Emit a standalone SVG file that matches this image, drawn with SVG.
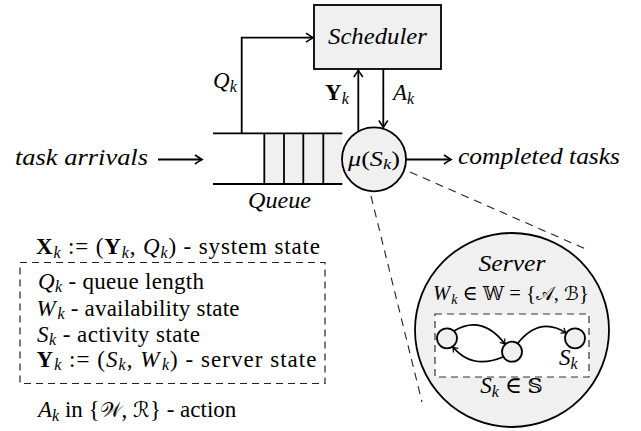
<svg xmlns="http://www.w3.org/2000/svg" width="641" height="431" viewBox="0 0 641 431">
<style>
.t{font-family:"Liberation Serif","DejaVu Serif",serif;font-size:23px;fill:#000}
.mi{font-style:italic}
.bf{font-weight:bold}
.sb{font-size:16px;font-style:italic}
.ln{fill:none;stroke:#000;stroke-width:1.8}
.gr{fill:#f0f0f0;stroke:#000;stroke-width:1.8}
.dash{fill:none;stroke:#222;stroke-width:1.1;stroke-dasharray:8 6}
.sym{font-family:"DejaVu Serif","DejaVu Sans",serif;font-style:normal;font-size:21px}
</style>
<defs>
<marker id="arr" viewBox="-10 -6 12 12" markerWidth="12" markerHeight="12" refX="0" refY="0" orient="auto" markerUnits="userSpaceOnUse">
<path d="M-7,-4.5 Q-2,-1 0,0 Q-2,1 -7,4.5" fill="none" stroke="#000" stroke-width="1.6"/>
</marker>
<marker id="sarr" viewBox="-8 -5 10 10" markerWidth="9" markerHeight="9" refX="0" refY="0" orient="auto" markerUnits="userSpaceOnUse">
<path d="M-5,-3.5 Q-1.5,-0.8 0,0 Q-1.5,0.8 -5,3.5" fill="none" stroke="#000" stroke-width="1.4"/>
</marker>
</defs>

<g id="connectors">
<line class="ln" x1="158" y1="159.5" x2="202" y2="159.5" marker-end="url(#arr)"/>
<polyline class="ln" points="241.7,133 241.7,37.7 313,37.7" marker-end="url(#arr)"/>
<line class="ln" x1="358.3" y1="131" x2="358.3" y2="70" marker-end="url(#arr)"/>
<line class="ln" x1="383.3" y1="69" x2="383.3" y2="127.5" marker-end="url(#arr)"/>
<line class="ln" x1="406" y1="159.5" x2="451" y2="159.5" marker-end="url(#arr)"/>
<line class="dash" x1="410" y1="172" x2="588" y2="250"/>
<line class="dash" x1="371" y1="196" x2="422" y2="402"/>
</g>

<g id="task-arrivals">
<text class="t mi" x="15" y="165" textLength="133" lengthAdjust="spacingAndGlyphs">task arrivals</text>
</g>

<g id="scheduler">
<rect class="gr" x="314" y="5" width="127" height="64"/>
<text class="t mi" x="328" y="43.5" textLength="99" lengthAdjust="spacingAndGlyphs">Scheduler</text>
</g>

<g id="queue">
<rect x="264.3" y="133.3" width="78" height="50.7" fill="#f0f0f0"/>
<line class="ln" x1="213" y1="133.3" x2="342.3" y2="133.3"/>
<line class="ln" x1="213" y1="184" x2="342.3" y2="184"/>
<line class="ln" x1="264.3" y1="133.3" x2="264.3" y2="184"/>
<line class="ln" x1="284" y1="133.3" x2="284" y2="184"/>
<line class="ln" x1="303.3" y1="133.3" x2="303.3" y2="184"/>
<line class="ln" x1="323.3" y1="133.3" x2="323.3" y2="184"/>
<text class="t mi" x="248" y="208" textLength="63" lengthAdjust="spacingAndGlyphs">Queue</text>
</g>

<g id="labels">
<text class="t" x="213" y="88"><tspan class="mi">Q</tspan><tspan class="sb" dy="4">k</tspan></text>
<text class="t" x="325" y="100"><tspan class="bf">Y</tspan><tspan class="sb" dy="4">k</tspan></text>
<text class="t" x="393" y="100"><tspan class="mi">A</tspan><tspan class="sb" dy="4">k</tspan></text>
</g>

<g id="server-node">
<circle cx="374" cy="159.3" r="32" fill="#f0f0f0" stroke="#000" stroke-width="1.8"/>
<text class="t" x="374" y="166" text-anchor="middle" textLength="52" lengthAdjust="spacingAndGlyphs" style="font-size:21px"><tspan class="mi">μ</tspan>(<tspan class="mi">S</tspan><tspan class="sb" dy="3" style="font-size:15px">k</tspan><tspan dy="-3">)</tspan></text>
</g>

<g id="completed-tasks">
<text class="t mi" x="458" y="164" textLength="162" lengthAdjust="spacingAndGlyphs">completed tasks</text>
</g>

<g id="server-detail">
<circle cx="512" cy="330" r="97" fill="#f0f0f0" stroke="#000" stroke-width="1.8"/>
<text class="t mi" x="512" y="270.5" text-anchor="middle" textLength="67" lengthAdjust="spacingAndGlyphs">Server</text>
<text class="t" x="511" y="300" text-anchor="middle" style="font-size:20.5px"><tspan class="mi">W</tspan><tspan class="sb" dx="1" dy="4" style="font-size:14px">k</tspan><tspan dy="-4"> ∈ </tspan><tspan class="sym" style="font-size:19px">𝕎</tspan> = {<tspan class="sym" style="font-size:19px">𝒜</tspan>, <tspan class="sym" style="font-size:19px">ℬ</tspan>}</text>
<rect x="435" y="314" width="154" height="63" fill="#fff" stroke="#333" stroke-width="1.2" stroke-dasharray="7 5"/>
<circle cx="447" cy="338.3" r="10" fill="#f0f0f0" stroke="#000" stroke-width="1.8"/>
<circle cx="512" cy="351.7" r="10" fill="#f0f0f0" stroke="#000" stroke-width="1.8"/>
<circle cx="575" cy="338.3" r="10" fill="#f0f0f0" stroke="#000" stroke-width="1.8"/>
<path d="M454,331 Q482,314 505,344" fill="none" stroke="#000" stroke-width="1.8" marker-end="url(#sarr)"/>
<path d="M503,357 Q472,370 453,347" fill="none" stroke="#000" stroke-width="1.8" marker-end="url(#sarr)"/>
<path d="M518,343 Q540,316 566,333" fill="none" stroke="#000" stroke-width="1.8" marker-end="url(#sarr)"/>
<text class="t" x="559" y="365"><tspan class="mi">S</tspan><tspan class="sb" dy="4">k</tspan></text>
<text class="t" x="511.5" y="393" text-anchor="middle"><tspan class="mi">S</tspan><tspan class="sb" dy="4">k</tspan><tspan dy="-4"> ∈ </tspan><tspan class="sym">𝕊</tspan></text>
</g>

<g id="legend">
<text class="t" x="36" y="254" textLength="284" lengthAdjust="spacing"><tspan class="bf">X</tspan><tspan class="sb" dy="4">k</tspan><tspan dy="-4"> := (</tspan><tspan class="bf">Y</tspan><tspan class="sb" dy="4">k</tspan><tspan dy="-4">, </tspan><tspan class="mi">Q</tspan><tspan class="sb" dy="4">k</tspan><tspan dy="-4">) - system state</tspan></text>
<rect x="20" y="262.5" width="305" height="121" fill="none" stroke="#222" stroke-width="1.2" stroke-dasharray="7 5"/>
<text class="t" x="38" y="289" textLength="166" lengthAdjust="spacing"><tspan class="mi">Q</tspan><tspan class="sb" dy="3">k</tspan><tspan dy="-3"> - queue length</tspan></text>
<text class="t" x="36.5" y="316" textLength="203" lengthAdjust="spacing"><tspan class="mi">W</tspan><tspan class="sb" dx="1.5" dy="2.5">k</tspan><tspan dy="-2.5"> - availability state</tspan></text>
<text class="t" x="37" y="342" textLength="163" lengthAdjust="spacing"><tspan class="mi">S</tspan><tspan class="sb" dy="3">k</tspan><tspan dy="-3"> - activity state</tspan></text>
<text class="t" x="36.5" y="367" textLength="280" lengthAdjust="spacing"><tspan class="bf">Y</tspan><tspan class="sb" dy="3">k</tspan><tspan dy="-3"> := (</tspan><tspan class="mi">S</tspan><tspan class="sb" dy="3">k</tspan><tspan dy="-3">, </tspan><tspan class="mi">W</tspan><tspan class="sb" dx="1.5" dy="3">k</tspan><tspan dy="-3">) - server state</tspan></text>
<text class="t" x="38" y="416.5"><tspan class="mi">A</tspan><tspan class="sb" dy="4">k</tspan><tspan dy="-4"> in {</tspan><tspan class="sym">𝒲</tspan>, <tspan class="sym">ℛ</tspan>} - action</text>
</g>
</svg>
